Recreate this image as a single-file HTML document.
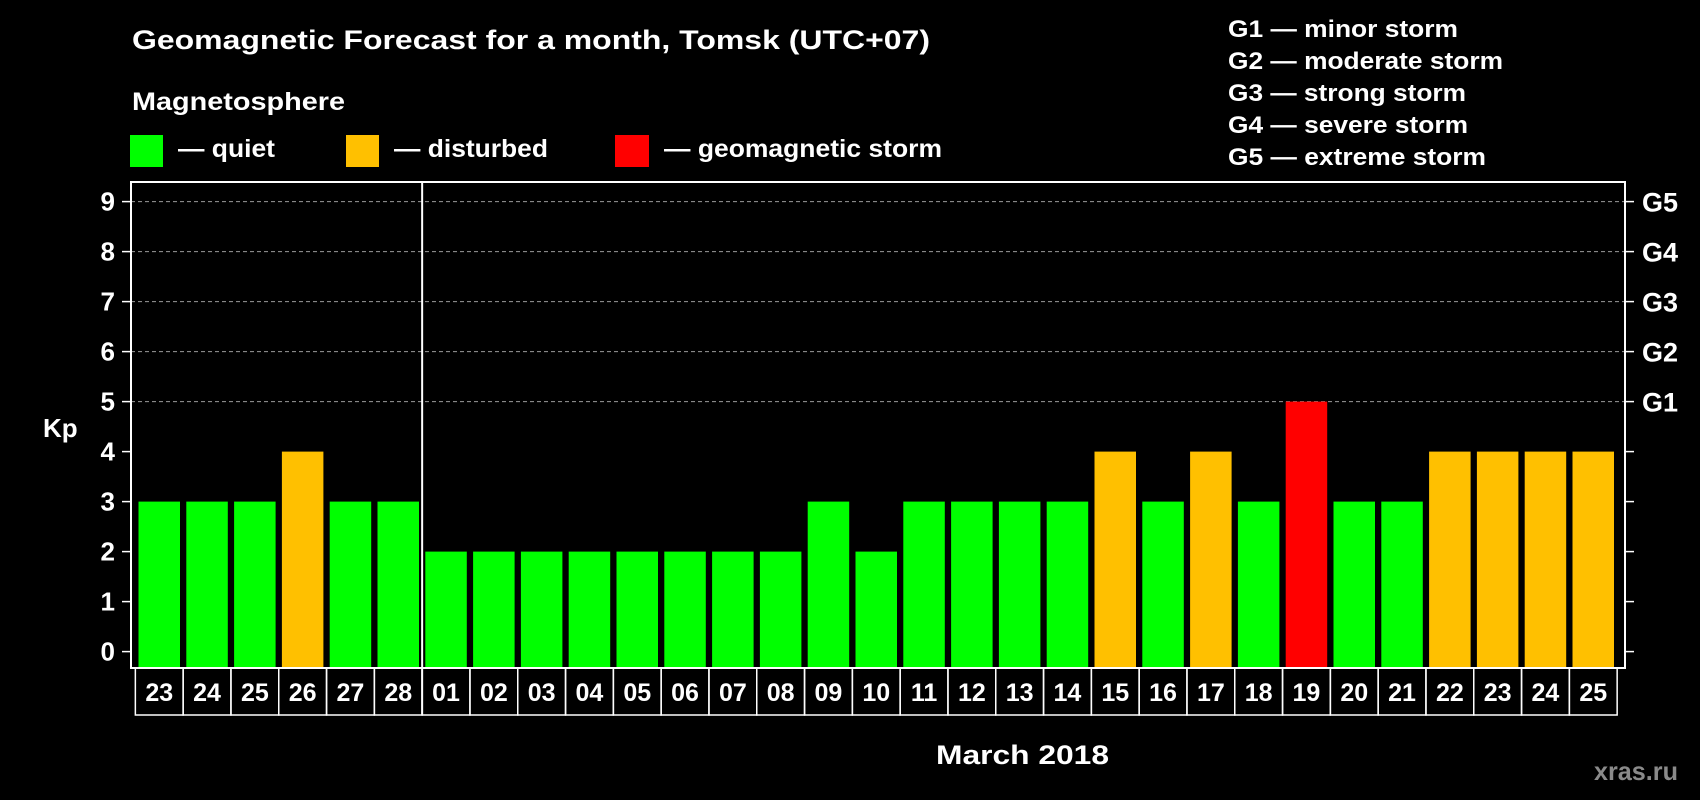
<!DOCTYPE html>
<html><head><meta charset="utf-8"><style>
html,body{margin:0;padding:0;background:#000;}
svg{display:block;font-family:"Liberation Sans",Arial,sans-serif;font-weight:bold;}
</style></head><body>
<svg id="chart" width="1700" height="800" viewBox="0 0 1700 800">
<rect x="0" y="0" width="1700" height="800" fill="#000"/>
<text x="132" y="49" font-size="27" fill="#fff" textLength="798" lengthAdjust="spacingAndGlyphs">Geomagnetic Forecast for a month, Tomsk (UTC+07)</text>
<text x="132" y="110" font-size="25" fill="#fff" textLength="213" lengthAdjust="spacingAndGlyphs">Magnetosphere</text>
<g>
<rect x="130" y="135" width="33" height="32" fill="#00ff00"/>
<text x="178" y="157" font-size="25" fill="#fff" textLength="97" lengthAdjust="spacingAndGlyphs">— quiet</text></g>
<g>
<rect x="346" y="135" width="33" height="32" fill="#ffc000"/>
<text x="394" y="157" font-size="25" fill="#fff" textLength="154" lengthAdjust="spacingAndGlyphs">— disturbed</text></g>
<g>
<rect x="615" y="135" width="34" height="32" fill="#ff0000"/>
<text x="664" y="157" font-size="25" fill="#fff" textLength="278" lengthAdjust="spacingAndGlyphs">— geomagnetic storm</text></g>
<g font-size="24" fill="#fff">
<text x="1228" y="37" textLength="230" lengthAdjust="spacingAndGlyphs">G1 — minor storm</text>
<text x="1228" y="69" textLength="275" lengthAdjust="spacingAndGlyphs">G2 — moderate storm</text>
<text x="1228" y="101" textLength="238" lengthAdjust="spacingAndGlyphs">G3 — strong storm</text>
<text x="1228" y="133" textLength="240" lengthAdjust="spacingAndGlyphs">G4 — severe storm</text>
<text x="1228" y="165" textLength="258" lengthAdjust="spacingAndGlyphs">G5 — extreme storm</text>
</g>
<text x="43" y="437" font-size="26" fill="#fff">Kp</text>
<g id="plot"></g>
<text x="936" y="764" font-size="27" fill="#fff" textLength="173" lengthAdjust="spacingAndGlyphs">March 2018</text>
<text x="1594" y="780" font-size="26" fill="#8a8a8a" textLength="84" lengthAdjust="spacingAndGlyphs">xras.ru</text>
</svg>
<script>
const days = ["23","24","25","26","27","28","01","02","03","04","05","06","07","08","09","10","11","12","13","14","15","16","17","18","19","20","21","22","23","24","25"];
const kp = [3,3,3,4,3,3,2,2,2,2,2,2,2,2,3,2,3,3,3,3,4,3,4,3,5,3,3,4,4,4,4];
const yTicks = [0,1,2,3,4,5,6,7,8,9];
const gLabels = ["G1","G2","G3","G4","G5"];
const gLevels = [5,6,7,8,9];
const monthStartIndex = 6;

const NS="http://www.w3.org/2000/svg";
const plot=document.getElementById('plot');
const L=131,R=1625,T=182,B=668,BOXB=715;
const x0=138.5, pitch=47.8, bw=41.5;
const yS=v=>651.6-v*50;
const xS=i=>x0+i*pitch;
function mk(tag,attrs){const e=document.createElementNS(NS,tag);for(const k in attrs)e.setAttribute(k,attrs[k]);plot.appendChild(e);return e;}
function col(v){return v>=5?"#ff0000":(v>=4?"#ffc000":"#00ff00");}

gLevels.forEach(v=>{
  const g=mk('line',{x1:L,x2:R,y1:yS(v),y2:yS(v),stroke:'#9a9a9a','stroke-width':1,'stroke-dasharray':'4,3'});
  
  
});
kp.forEach((v,i)=>{
  const r=mk('rect',{x:xS(i),y:yS(v),width:bw,height:B-yS(v),fill:col(v)});
  
  
  const bx=mk('rect',{x:xS(i)+bw/2-pitch/2,y:B,width:pitch,height:BOXB-B,fill:'none',stroke:'#fff','stroke-width':1.5});
  
  
  const t=mk('text',{x:xS(i)+bw/2,y:701,'text-anchor':'middle','font-size':25,fill:'#fff'});
  t.textContent=days[i];
  
  
});
yTicks.forEach(v=>{
  const tl=mk('line',{x1:122,x2:L,y1:yS(v),y2:yS(v),stroke:'#fff','stroke-width':1.5});
  
  
  const tr=mk('line',{x1:R,x2:R+9,y1:yS(v),y2:yS(v),stroke:'#fff','stroke-width':1.5});
  
  
  const t=mk('text',{x:115,y:yS(v)+9,'text-anchor':'end','font-size':26,fill:'#fff'});
  t.textContent=v;
  
  
});
gLabels.forEach((g,i)=>{
  const t=mk('text',{x:1642,y:yS(gLevels[i])+10,'font-size':27,fill:'#fff'});
  t.textContent=g;
  
  
});
const fr=mk('rect',{x:L,y:T,width:R-L,height:B-T,fill:'none',stroke:'#fff','stroke-width':2});


const sx=xS(monthStartIndex)-(pitch-bw)/2;
const sep=mk('line',{x1:sx,x2:sx,y1:T,y2:BOXB,stroke:'#fff','stroke-width':2});


</script>
</body></html>
